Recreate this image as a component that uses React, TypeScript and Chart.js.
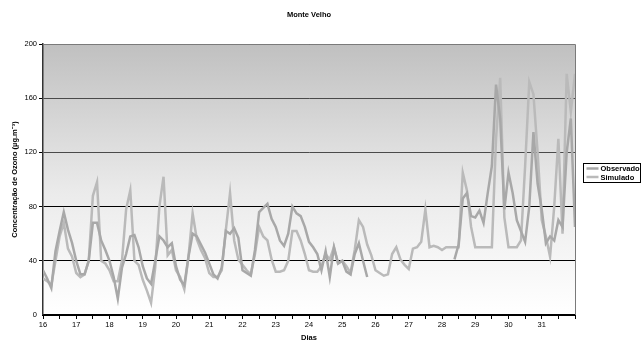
import React, { useEffect, useRef } from 'react';
import { Chart, registerables } from 'chart.js';

Chart.register(...registerables);

// Readings every 3 hours, starting on day 16 at 00:00
const DAY_START = 16;
const STEP_HOURS = 3;
const dayTicks = [16, 17, 18, 19, 20, 21, 22, 23, 24, 25, 26, 27, 28, 29, 30, 31];

const observado: (number | null)[] = [
  33, 27, 20, 47, 62, 76, 63, 53,
  40, 30, 30, 40, 68, 68, 55, 48,
  40, 28, 12, 35, 45, 58, 59, 50,
  36, 27, 23, 40, 58, 55, 50, 53,
  36, 26, 22, 43, 60, 58, 52, 46,
  38, 30, 27, 35, 62, 60, 64, 57,
  33, 31, 29, 48, 76, 79, 82, 71,
  65, 55, 51, 60, 80, 75, 73, 65,
  54, 50, 45, 33, 47, 28, 50, 38,
  40, 32, 30, 45, 53, 40, 28, null,
  null, null, null, null, null, null, null, null,
  null, null, null, null, null, null, null, null,
  null, null, null, 41, 52, 86, 90, 73,
  72, 77, 68, 90, 110, 170, 145, 78,
  105, 90, 70, 62, 54, 80, 135, 97,
  78, 53, 58, 55, 70, 65, 120, 145,
  65,
];

const simulado: (number | null)[] = [
  27, 25, 22, 40, 58, 68, 49, 43,
  31, 28, 30, 40, 88, 98, 40, 38,
  33, 25, 25, 40, 78, 92, 40, 37,
  26, 18, 9, 35, 80, 102, 44, 48,
  33, 28, 19, 43, 75, 56, 48, 42,
  31, 28, 28, 33, 63, 90, 55, 41,
  37, 33, 30, 45, 65, 58, 55, 41,
  32, 32, 33, 40, 62, 62, 55, 45,
  33, 32, 32, 36, 45, 41, 50, 38,
  40, 36, 31, 48, 70, 65, 52, 44,
  33, 31, 29, 30, 45, 50, 41, 37,
  34, 49, 50, 54, 78, 50, 51, 50,
  48, 50, 50, 50, 50, 105, 92, 65,
  50, 50, 50, 50, 50, 130, 175, 72,
  50, 50, 50, 55, 110, 172, 163, 120,
  70, 58, 43, 80, 130, 60, 178, 150,
  178,
];

const yTicks = [0, 40, 80, 120, 160, 200];

const FONT = 'Liberation Sans, Arial, sans-serif';
const OBS_COLOR = '#a8a8a8';
const SIM_COLOR = '#bababa';

const backgroundPlugin = {
  id: 'plotBackground',
  beforeDraw(chart: any) {
    const { ctx, chartArea } = chart;
    const { left, top, right, bottom } = chartArea;
    ctx.save();
    ctx.fillStyle = '#ffffff';
    ctx.fillRect(0, 0, chart.width, chart.height);
    const g = ctx.createLinearGradient(0, top, 0, bottom);
    g.addColorStop(0, '#c0c0c0');
    g.addColorStop(0.55, '#ebebeb');
    g.addColorStop(1, '#ffffff');
    ctx.fillStyle = g;
    ctx.fillRect(left, top, right - left, bottom - top);
    ctx.restore();
  },
  afterDraw(chart: any) {
    const { ctx, chartArea } = chart;
    const { left, top, right, bottom } = chartArea;
    ctx.save();
    ctx.strokeStyle = '#7a7a7a';
    ctx.lineWidth = 1;
    ctx.beginPath();
    ctx.moveTo(left, top + 0.5);
    ctx.lineTo(right + 0.5, top + 0.5);
    ctx.lineTo(right + 0.5, bottom);
    ctx.stroke();

    // legend
    const datasets = chart.data.datasets;
    const bx = Math.round(right + 8) + 0.5;
    const bh = 19;
    const bw = 57;
    const by = Math.round((top + bottom) / 2 - 17) + 0.5;
    ctx.strokeStyle = '#000';
    ctx.lineWidth = 1;
    ctx.strokeRect(bx, by, bw, bh);
    ctx.font = `bold 7.5px ${FONT}`;
    ctx.textBaseline = 'middle';
    ctx.fillStyle = '#000';
    datasets.forEach((ds: any, i: number) => {
      const cy = by + 5 + i * 8.5;
      ctx.strokeStyle = ds.borderColor;
      ctx.lineWidth = 2.5;
      ctx.beginPath();
      ctx.moveTo(bx + 3, cy);
      ctx.lineTo(bx + 15, cy);
      ctx.stroke();
      ctx.fillText(ds.label, bx + 17, cy + 0.5);
    });
    ctx.restore();
  },
};

export default function App() {
  const ref = useRef<HTMLCanvasElement | null>(null);

  useEffect(() => {
    if (!ref.current) return;
    const times = observado.map((_, i) => DAY_START + (i * STEP_HOURS) / 24);
    const chart = new Chart(ref.current, {
      type: 'line',
      data: {
        datasets: [
          {
            label: 'Observado',
            data: times.map((t, i) => ({ x: t, y: observado[i] })),
            borderColor: OBS_COLOR,
            backgroundColor: OBS_COLOR,
            borderWidth: 2.5,
            pointRadius: 0,
            tension: 0,
            spanGaps: false,
            fill: false,
          },
          {
            label: 'Simulado',
            data: times.map((t, i) => ({ x: t, y: simulado[i] })),
            borderColor: SIM_COLOR,
            backgroundColor: SIM_COLOR,
            borderWidth: 2.5,
            pointRadius: 0,
            tension: 0,
            spanGaps: false,
            fill: false,
          },
        ],
      },
      options: {
        responsive: false,
        animation: false,
        layout: { padding: { right: 69, left: 0, top: 0, bottom: 0 } },
        plugins: {
          legend: { display: false },
          tooltip: { enabled: false },
          title: {
            display: true,
            fullSize: false,
            text: 'Monte Velho',
            color: '#000',
            font: { family: FONT, size: 7.5, weight: 'bold' },
            padding: { top: 10, bottom: 25 },
          },
        },
        scales: {
          x: {
            type: 'linear',
            min: dayTicks[0],
            max: dayTicks[dayTicks.length - 1] + 1,
            afterFit: (s: any) => {
              s.height = 30;
            },
            ticks: {
              stepSize: 0.5,
              autoSkip: false,
              maxRotation: 0,
              minRotation: 0,
              padding: 1,
              color: '#000',
              font: { family: FONT, size: 7.5 },
              callback: (v: any) => (dayTicks.includes(Number(v)) ? String(v) : ''),
            },
            grid: {
              drawOnChartArea: false,
              drawTicks: true,
              tickLength: 4,
              tickColor: '#000',
            },
            border: { color: '#000', width: 2 },
            title: {
              display: true,
              text: 'Dias',
              color: '#000',
              font: { family: FONT, size: 7.5, weight: 'bold' },
              padding: { top: 0, bottom: 3 },
            },
          },
          y: {
            min: yTicks[0],
            max: yTicks[yTicks.length - 1],
            afterFit: (s: any) => {
              s.width = 43;
            },
            afterBuildTicks: (s: any) => {
              s.ticks = yTicks.map((v) => ({ value: v }));
            },
            ticks: {
              color: '#000',
              padding: 2,
              font: { family: FONT, size: 7.5 },
            },
            grid: {
              color: (c: any) => (c.tick && c.tick.value >= 120 ? '#4a4a4a' : '#000'),
              lineWidth: (c: any) => (c.tick && c.tick.value === 0 ? 0 : 1),
              tickLength: 4,
              tickColor: '#000',
              drawTicks: true,
            },
            border: { color: '#333', width: 1.5 },
            title: {
              display: true,
              text: 'Concentração de Ozono (µg.m⁻³)',
              color: '#000',
              font: { family: FONT, size: 7.5, weight: 'bold' },
              padding: { top: 10, bottom: 0 },
            },
          },
        },
      },
      plugins: [backgroundPlugin],
    });
    return () => chart.destroy();
  }, []);

  return (
    <div style={{ position: 'absolute', left: 0, top: 0, width: 644, height: 345 }}>
      <canvas ref={ref} width={644} height={345} style={{ width: 644, height: 345 }} />
    </div>
  );
}
